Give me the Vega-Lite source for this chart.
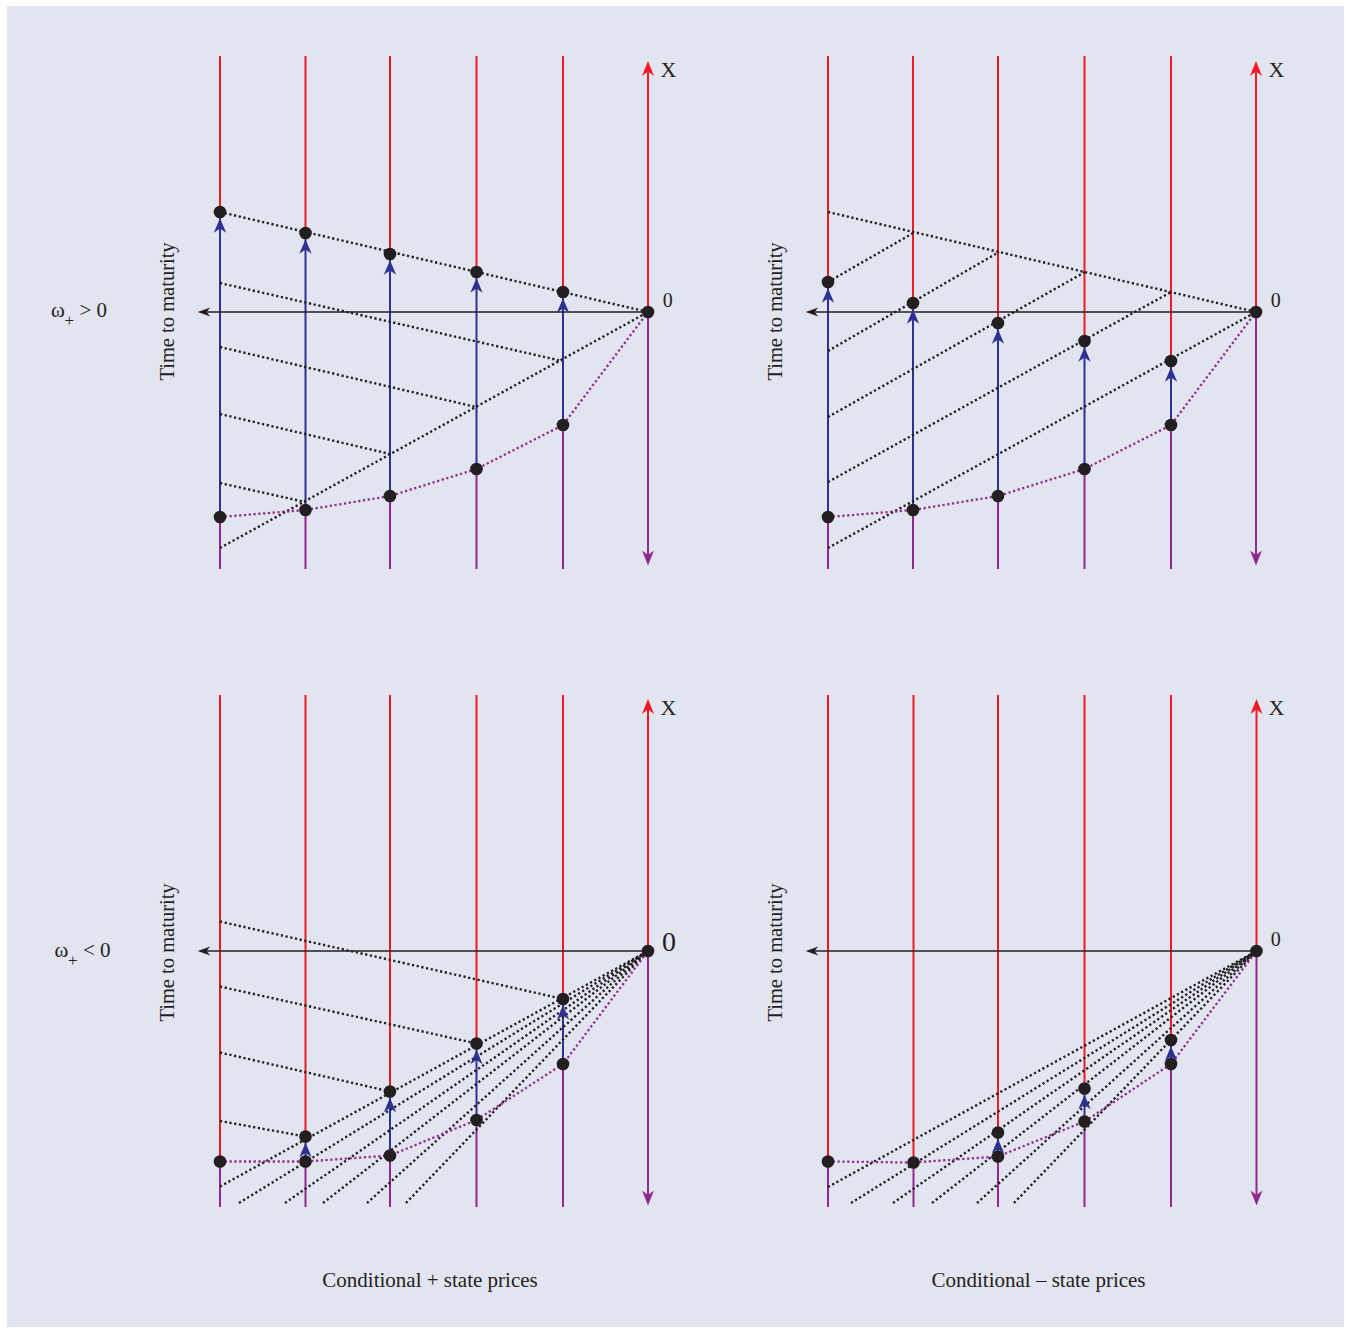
{
  "$schema": "https://vega.github.io/schema/vega-lite/v6.json",
  "width": 1350,
  "height": 1333,
  "autosize": {"type": "fit", "contains": "padding"},
  "padding": {"left": 7, "right": 6, "top": 6, "bottom": 6},
  "background": "#ffffff",
  "config": {"view": {"fill": "#e2e4f0", "stroke": null}},
  "datasets": {
    "vert": [
      {"x": 220, "y": 56, "y2": 212, "c": "r"}, {"x": 220, "y": 517, "y2": 212, "c": "b"}, {"x": 220, "y": 517, "y2": 569, "c": "p"},
      {"x": 305.5, "y": 56, "y2": 233, "c": "r"}, {"x": 305.5, "y": 510, "y2": 233, "c": "b"}, {"x": 305.5, "y": 510, "y2": 569, "c": "p"},
      {"x": 390, "y": 56, "y2": 254, "c": "r"}, {"x": 390, "y": 496, "y2": 254, "c": "b"}, {"x": 390, "y": 496, "y2": 569, "c": "p"},
      {"x": 476.5, "y": 56, "y2": 272, "c": "r"}, {"x": 476.5, "y": 469, "y2": 272, "c": "b"}, {"x": 476.5, "y": 469, "y2": 569, "c": "p"},
      {"x": 563, "y": 56, "y2": 292, "c": "r"}, {"x": 563, "y": 425, "y2": 292, "c": "b"}, {"x": 563, "y": 425, "y2": 569, "c": "p"},
      {"x": 648, "y": 312, "y2": 70, "c": "r"}, {"x": 648, "y": 312, "y2": 556, "c": "p"},
      {"x": 828, "y": 56, "y2": 282, "c": "r"}, {"x": 828, "y": 517, "y2": 282, "c": "b"}, {"x": 828, "y": 517, "y2": 569, "c": "p"},
      {"x": 913, "y": 56, "y2": 303, "c": "r"}, {"x": 913, "y": 510, "y2": 303, "c": "b"}, {"x": 913, "y": 510, "y2": 569, "c": "p"},
      {"x": 998, "y": 56, "y2": 323, "c": "r"}, {"x": 998, "y": 496, "y2": 323, "c": "b"}, {"x": 998, "y": 496, "y2": 569, "c": "p"},
      {"x": 1084.5, "y": 56, "y2": 341, "c": "r"}, {"x": 1084.5, "y": 469, "y2": 341, "c": "b"}, {"x": 1084.5, "y": 469, "y2": 569, "c": "p"},
      {"x": 1171, "y": 56, "y2": 361, "c": "r"}, {"x": 1171, "y": 425, "y2": 361, "c": "b"}, {"x": 1171, "y": 425, "y2": 569, "c": "p"},
      {"x": 1256, "y": 312, "y2": 70, "c": "r"}, {"x": 1256, "y": 312, "y2": 556, "c": "p"},
      {"x": 220, "y": 695, "y2": 1161.5, "c": "r"}, {"x": 220, "y": 1161.5, "y2": 1207, "c": "p"},
      {"x": 305.5, "y": 695, "y2": 1136.5, "c": "r"}, {"x": 305.5, "y": 1161.5, "y2": 1136.5, "c": "b"}, {"x": 305.5, "y": 1161.5, "y2": 1207, "c": "p"},
      {"x": 390, "y": 695, "y2": 1091.5, "c": "r"}, {"x": 390, "y": 1155.5, "y2": 1091.5, "c": "b"}, {"x": 390, "y": 1155.5, "y2": 1207, "c": "p"},
      {"x": 476.5, "y": 695, "y2": 1043.5, "c": "r"}, {"x": 476.5, "y": 1120, "y2": 1043.5, "c": "b"}, {"x": 476.5, "y": 1120, "y2": 1207, "c": "p"},
      {"x": 563, "y": 695, "y2": 999, "c": "r"}, {"x": 563, "y": 1064, "y2": 999, "c": "b"}, {"x": 563, "y": 1064, "y2": 1207, "c": "p"},
      {"x": 648, "y": 951, "y2": 709, "c": "r"}, {"x": 648, "y": 951, "y2": 1195, "c": "p"},
      {"x": 828, "y": 695, "y2": 1161.5, "c": "r"}, {"x": 828, "y": 1161.5, "y2": 1207, "c": "p"},
      {"x": 913.5, "y": 695, "y2": 1162.5, "c": "r"}, {"x": 913.5, "y": 1162.5, "y2": 1207, "c": "p"},
      {"x": 998, "y": 695, "y2": 1132.5, "c": "r"}, {"x": 998, "y": 1156.5, "y2": 1132.5, "c": "b"}, {"x": 998, "y": 1156.5, "y2": 1207, "c": "p"},
      {"x": 1084.5, "y": 695, "y2": 1088.5, "c": "r"}, {"x": 1084.5, "y": 1121.5, "y2": 1088.5, "c": "b"}, {"x": 1084.5, "y": 1121.5, "y2": 1207, "c": "p"},
      {"x": 1171, "y": 695, "y2": 1040, "c": "r"}, {"x": 1171, "y": 1064, "y2": 1040, "c": "b"}, {"x": 1171, "y": 1064, "y2": 1207, "c": "p"},
      {"x": 1256.5, "y": 951, "y2": 709, "c": "r"}, {"x": 1256.5, "y": 951, "y2": 1195, "c": "p"}
    ],
    "horiz": [
      {"x": 648, "x2": 205, "y": 312}, {"x": 1256, "x2": 813, "y": 312},
      {"x": 648, "x2": 205, "y": 951}, {"x": 1256.5, "x2": 813, "y": 951}
    ],
    "dotted": [
      {"x": 220, "y": 212, "x2": 648, "y2": 312}, {"x": 220, "y": 548, "x2": 648, "y2": 312},
      {"x": 220, "y": 283, "x2": 562, "y2": 361}, {"x": 220, "y": 347, "x2": 476, "y2": 407},
      {"x": 220, "y": 414, "x2": 390, "y2": 454}, {"x": 220, "y": 483, "x2": 305, "y2": 502},
      {"x": 828, "y": 212, "x2": 1256, "y2": 312}, {"x": 828, "y": 548, "x2": 1256, "y2": 312},
      {"x": 828, "y": 282, "x2": 915, "y2": 232}, {"x": 828, "y": 351, "x2": 999, "y2": 252},
      {"x": 828, "y": 417, "x2": 1085, "y2": 272}, {"x": 828, "y": 482, "x2": 1171, "y2": 292},
      {"x": 220, "y": 1186.5, "x2": 648, "y2": 951}, {"x": 239, "y": 1203, "x2": 648, "y2": 951},
      {"x": 285, "y": 1203, "x2": 648, "y2": 951}, {"x": 323, "y": 1203, "x2": 648, "y2": 951},
      {"x": 367, "y": 1203, "x2": 648, "y2": 951}, {"x": 406, "y": 1203, "x2": 648, "y2": 951},
      {"x": 220, "y": 921.5, "x2": 563, "y2": 999}, {"x": 220, "y": 986.5, "x2": 476.5, "y2": 1043.5},
      {"x": 220, "y": 1052.5, "x2": 390, "y2": 1091.5}, {"x": 220, "y": 1121, "x2": 305.5, "y2": 1136.5},
      {"x": 828, "y": 1187, "x2": 1256.5, "y2": 951}, {"x": 851, "y": 1203, "x2": 1256.5, "y2": 951},
      {"x": 893, "y": 1203, "x2": 1256.5, "y2": 951}, {"x": 932, "y": 1203, "x2": 1256.5, "y2": 951},
      {"x": 977, "y": 1203, "x2": 1256.5, "y2": 951}, {"x": 1014, "y": 1203, "x2": 1256.5, "y2": 951}
    ],
    "curve": [
      {"p": 1, "x": 220, "y": 517}, {"p": 1, "x": 305.5, "y": 510}, {"p": 1, "x": 390, "y": 496}, {"p": 1, "x": 476.5, "y": 469}, {"p": 1, "x": 563, "y": 425}, {"p": 1, "x": 648, "y": 312},
      {"p": 2, "x": 828, "y": 517}, {"p": 2, "x": 913, "y": 510}, {"p": 2, "x": 998, "y": 496}, {"p": 2, "x": 1084.5, "y": 469}, {"p": 2, "x": 1171, "y": 425}, {"p": 2, "x": 1256, "y": 312},
      {"p": 3, "x": 220, "y": 1161.5}, {"p": 3, "x": 305.5, "y": 1161.5}, {"p": 3, "x": 390, "y": 1155.5}, {"p": 3, "x": 476.5, "y": 1120}, {"p": 3, "x": 563, "y": 1064}, {"p": 3, "x": 648, "y": 951},
      {"p": 4, "x": 828, "y": 1161.5}, {"p": 4, "x": 913.5, "y": 1162.5}, {"p": 4, "x": 998, "y": 1156.5}, {"p": 4, "x": 1084.5, "y": 1121.5}, {"p": 4, "x": 1171, "y": 1064}, {"p": 4, "x": 1256.5, "y": 951}
    ],
    "dots": [
      {"x": 220, "y": 212}, {"x": 305.5, "y": 233}, {"x": 390, "y": 254}, {"x": 476.5, "y": 272}, {"x": 563, "y": 292},
      {"x": 220, "y": 517}, {"x": 305.5, "y": 510}, {"x": 390, "y": 496}, {"x": 476.5, "y": 469}, {"x": 563, "y": 425}, {"x": 648, "y": 312},
      {"x": 828, "y": 282}, {"x": 913, "y": 303}, {"x": 998, "y": 323}, {"x": 1084.5, "y": 341}, {"x": 1171, "y": 361},
      {"x": 828, "y": 517}, {"x": 913, "y": 510}, {"x": 998, "y": 496}, {"x": 1084.5, "y": 469}, {"x": 1171, "y": 425}, {"x": 1256, "y": 312},
      {"x": 305.5, "y": 1136.5}, {"x": 390, "y": 1091.5}, {"x": 476.5, "y": 1043.5}, {"x": 563, "y": 999},
      {"x": 220, "y": 1161.5}, {"x": 305.5, "y": 1161.5}, {"x": 390, "y": 1155.5}, {"x": 476.5, "y": 1120}, {"x": 563, "y": 1064}, {"x": 648, "y": 951},
      {"x": 998, "y": 1132.5}, {"x": 1084.5, "y": 1088.5}, {"x": 1171, "y": 1040},
      {"x": 828, "y": 1161.5}, {"x": 913.5, "y": 1162.5}, {"x": 998, "y": 1156.5}, {"x": 1084.5, "y": 1121.5}, {"x": 1171, "y": 1064}, {"x": 1256.5, "y": 951}
    ],
    "bluetips": [
      {"x": 220, "y": 212}, {"x": 305.5, "y": 233}, {"x": 390, "y": 254}, {"x": 476.5, "y": 272}, {"x": 563, "y": 292},
      {"x": 828, "y": 282}, {"x": 913, "y": 303}, {"x": 998, "y": 323}, {"x": 1084.5, "y": 341}, {"x": 1171, "y": 361},
      {"x": 305.5, "y": 1136.5}, {"x": 390, "y": 1091.5}, {"x": 476.5, "y": 1043.5}, {"x": 563, "y": 999},
      {"x": 998, "y": 1132.5}, {"x": 1084.5, "y": 1088.5}, {"x": 1171, "y": 1040}
    ],
    "redtips": [{"x": 648, "y": 68.5}, {"x": 1256, "y": 68.5}, {"x": 648, "y": 706.5}, {"x": 1256.5, "y": 706.5}],
    "purpletips": [{"x": 648, "y": 558}, {"x": 1256, "y": 558}, {"x": 648, "y": 1198}, {"x": 1256.5, "y": 1198}],
    "blacktips": [{"x": 204, "y": 312}, {"x": 812, "y": 312}, {"x": 204, "y": 951}, {"x": 812, "y": 951}],
    "xlab": [{"x": 668.5, "y": 76.7, "t": "X"}, {"x": 1276.5, "y": 76.7, "t": "X"}, {"x": 668.5, "y": 714.7, "t": "X"}, {"x": 1276.5, "y": 714.7, "t": "X"}],
    "zeros": [{"x": 667.7, "y": 306.7, "t": "0"}, {"x": 1275.7, "y": 306.7, "t": "0"}, {"x": 1275.7, "y": 945.5, "t": "0"}],
    "bigzero": [{"x": 669, "y": 951, "t": "0"}],
    "ttm": [{"x": 173.5, "y": 311.5, "t": "Time to maturity"}, {"x": 781.5, "y": 311.5, "t": "Time to maturity"}, {"x": 173.5, "y": 952.5, "t": "Time to maturity"}, {"x": 781.5, "y": 952.5, "t": "Time to maturity"}],
    "omega": [{"x": 51, "y": 316.5, "t": "ω"}, {"x": 54.5, "y": 957, "t": "ω"}, {"x": 79.5, "y": 316.5, "t": "> 0"}, {"x": 83, "y": 957, "t": "< 0"}],
    "sub": [{"x": 64.5, "y": 325.5, "t": "+"}, {"x": 68, "y": 966, "t": "+"}],
    "captions": [{"x": 430, "y": 1287, "t": "Conditional + state prices"}, {"x": 1038.5, "y": 1287, "t": "Conditional – state prices"}]
  },
  "encoding": {
    "x": {"field": "x", "type": "quantitative", "scale": {"domain": [7, 1344], "nice": false, "zero": false}, "axis": null},
    "y": {"field": "y", "type": "quantitative", "scale": {"domain": [6, 1327], "nice": false, "zero": false, "reverse": true}, "axis": null}
  },
  "layer": [
    {
      "data": {"name": "vert"},
      "mark": {"type": "rule", "strokeWidth": 2, "strokeCap": "butt"},
      "encoding": {
        "y2": {"field": "y2"},
        "color": {"field": "c", "type": "nominal", "scale": {"domain": ["r", "b", "p"], "range": ["#ed1c24", "#2e3192", "#92278f"]}, "legend": null}
      }
    },
    {
      "data": {"name": "horiz"},
      "mark": {"type": "rule", "strokeWidth": 1.5, "color": "#231f20"},
      "encoding": {"x2": {"field": "x2"}}
    },
    {
      "data": {"name": "dotted"},
      "mark": {"type": "rule", "strokeWidth": 2.4, "color": "#231f20", "strokeDash": [2.2, 2.6], "strokeCap": "butt"},
      "encoding": {"x2": {"field": "x2"}, "y2": {"field": "y2"}}
    },
    {
      "data": {"name": "curve"},
      "mark": {"type": "line", "strokeWidth": 2.3, "color": "#92278f", "strokeDash": [2.2, 2.6], "strokeCap": "butt"},
      "encoding": {"detail": {"field": "p", "type": "nominal"}, "order": {"field": "x", "type": "quantitative"}}
    },
    {
      "data": {"name": "bluetips"},
      "mark": {"type": "point", "filled": true, "opacity": 1, "color": "#2e3192", "shape": "M0,-1L0.85,1L0,0.4L-0.85,1Z", "size": 210, "yOffset": 13.5}
    },
    {
      "data": {"name": "redtips"},
      "mark": {"type": "point", "filled": true, "opacity": 1, "color": "#ed1c24", "shape": "M0,-1L0.8,1L0,0.4L-0.8,1Z", "size": 225}
    },
    {
      "data": {"name": "purpletips"},
      "mark": {"type": "point", "filled": true, "opacity": 1, "color": "#92278f", "shape": "M0,-1L0.8,1L0,0.4L-0.8,1Z", "size": 225, "angle": 180}
    },
    {
      "data": {"name": "blacktips"},
      "mark": {"type": "point", "filled": true, "opacity": 1, "color": "#231f20", "shape": "M0,-1L0.7,1L0,0.4L-0.7,1Z", "size": 160, "angle": 270}
    },
    {
      "data": {"name": "dots"},
      "mark": {"type": "point", "filled": true, "opacity": 1, "color": "#231f20", "shape": "circle", "size": 160}
    },
    {
      "data": {"name": "xlab"},
      "mark": {"type": "text", "font": "Liberation Serif", "fontSize": 22, "align": "center", "baseline": "alphabetic", "color": "#231f20"},
      "encoding": {"text": {"field": "t"}}
    },
    {
      "data": {"name": "zeros"},
      "mark": {"type": "text", "font": "Liberation Serif", "fontSize": 20, "align": "center", "baseline": "alphabetic", "color": "#231f20"},
      "encoding": {"text": {"field": "t"}}
    },
    {
      "data": {"name": "bigzero"},
      "mark": {"type": "text", "font": "Liberation Serif", "fontSize": 28, "align": "center", "baseline": "alphabetic", "color": "#231f20"},
      "encoding": {"text": {"field": "t"}}
    },
    {
      "data": {"name": "ttm"},
      "mark": {"type": "text", "font": "Liberation Serif", "fontSize": 20.5, "align": "center", "baseline": "alphabetic", "angle": 270, "color": "#231f20"},
      "encoding": {"text": {"field": "t"}}
    },
    {
      "data": {"name": "omega"},
      "mark": {"type": "text", "font": "Liberation Serif", "fontSize": 21, "align": "left", "baseline": "alphabetic", "color": "#231f20"},
      "encoding": {"text": {"field": "t"}}
    },
    {
      "data": {"name": "sub"},
      "mark": {"type": "text", "font": "Liberation Serif", "fontSize": 17, "align": "left", "baseline": "alphabetic", "color": "#231f20"},
      "encoding": {"text": {"field": "t"}}
    },
    {
      "data": {"name": "captions"},
      "mark": {"type": "text", "font": "Liberation Serif", "fontSize": 21, "align": "center", "baseline": "alphabetic", "color": "#231f20"},
      "encoding": {"text": {"field": "t"}}
    }
  ]
}
